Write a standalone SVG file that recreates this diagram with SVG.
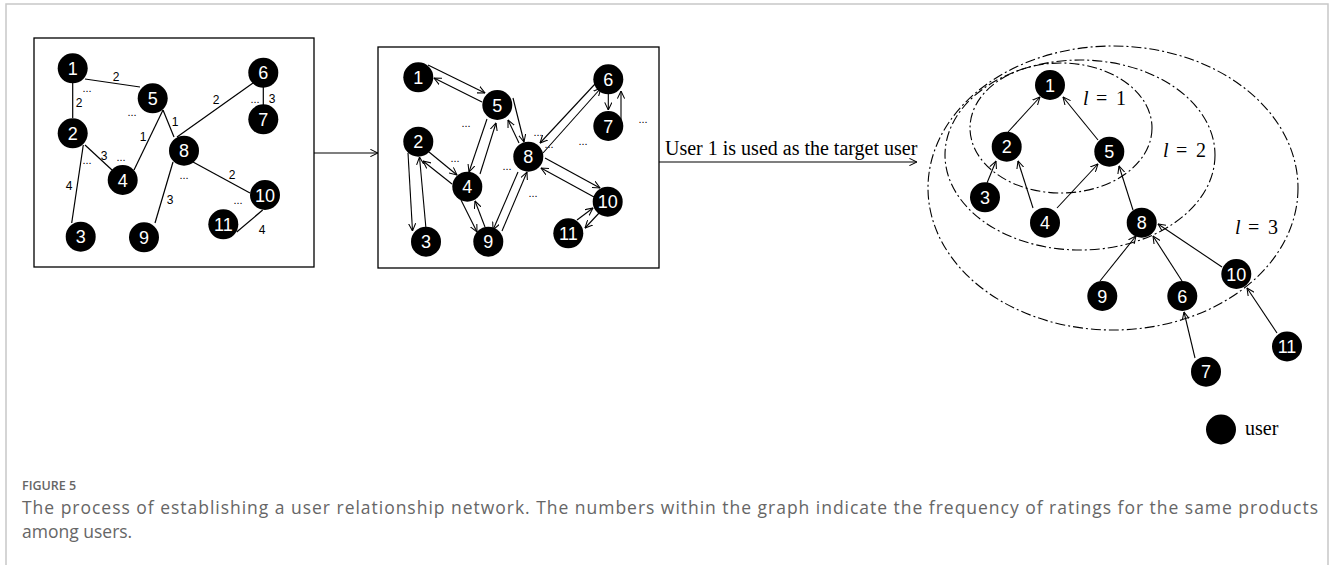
<svg xmlns="http://www.w3.org/2000/svg" width="1332" height="565" viewBox="0 0 1332 565">
<style>
.frame{fill:none;stroke:#c8c8c8;stroke-width:1.5}
.box{fill:none;stroke:#000;stroke-width:1.3}
.e{stroke:#000;stroke-width:1.2;fill:none}
.a{stroke:#000;stroke-width:1.1;fill:none;marker-end:url(#arr)}
.n{fill:#000}
.nt{fill:#fff;font-family:"Liberation Sans","Open Sans",sans-serif;font-size:18px;text-anchor:middle}
.lb{fill:#000;font-family:"Liberation Sans","Open Sans",sans-serif;font-size:12px;text-anchor:middle}
.dt{fill:#000;font-family:"Liberation Sans",sans-serif;font-size:11px;text-anchor:middle}
.ring{fill:none;stroke:#000;stroke-width:1.1;stroke-dasharray:10 3 2 3}
.ser{font-family:"Liberation Serif","Times New Roman",serif;fill:#000}
.cap{font-family:"Open Sans","Noto Sans",sans-serif;fill:#666}
</style>
<defs>
<marker id="arr" viewBox="0 0 10 10" refX="9.5" refY="5" markerWidth="8" markerHeight="8" markerUnits="userSpaceOnUse" orient="auto">
<path d="M0,0.5 L9.5,5 L0,9.5" fill="none" stroke="#000" stroke-width="1.3"/>
</marker>
</defs>
<rect width="1332" height="565" fill="#fff"/>
<path class="frame" d="M6,565 V4 H1328 V565"/>

<!-- Panel 1 -->
<rect class="box" x="34" y="38" width="280" height="229"/>
<g id="p1-connectors">
<line class="e" x1="85" y1="79" x2="140" y2="87"/>
<line class="e" x1="72.7" y1="83" x2="72.7" y2="118"/>
<line class="e" x1="163" y1="110" x2="134" y2="170"/>
<line class="e" x1="163" y1="110" x2="174" y2="137"/>
<line class="e" x1="177" y1="137" x2="253" y2="83"/>
<line class="e" x1="263.3" y1="87" x2="263.3" y2="106"/>
<line class="e" x1="85" y1="145" x2="112" y2="170"/>
<line class="e" x1="83.3" y1="145" x2="71.7" y2="223"/>
<line class="e" x1="193" y1="162" x2="250" y2="193"/>
<line class="e" x1="173" y1="162" x2="155" y2="223"/>
<line class="e" x1="262.7" y1="210" x2="236.7" y2="232"/>
<text class="lb" x="116" y="81">2</text>
<text class="lb" x="79" y="107">2</text>
<text class="lb" x="143" y="141">1</text>
<text class="lb" x="175" y="126">1</text>
<text class="lb" x="216" y="104">2</text>
<text class="lb" x="272" y="103">3</text>
<text class="lb" x="104" y="160">3</text>
<text class="lb" x="69" y="190">4</text>
<text class="lb" x="232" y="179">2</text>
<text class="lb" x="170" y="204">3</text>
<text class="lb" x="262" y="234">4</text>
<text class="dt" x="87" y="92">...</text>
<text class="dt" x="132" y="116">...</text>
<text class="dt" x="255" y="103">...</text>
<text class="dt" x="87" y="164">...</text>
<text class="dt" x="121" y="161">...</text>
<text class="dt" x="184" y="179">...</text>
<text class="dt" x="238" y="204">...</text>
</g>
<g id="p1-n1"><circle class="n" cx="72.7" cy="68.3" r="15"/><text class="nt" x="72.7" y="74.8">1</text></g>
<g id="p1-n2"><circle class="n" cx="72.7" cy="133.3" r="15"/><text class="nt" x="72.7" y="139.8">2</text></g>
<g id="p1-n3"><circle class="n" cx="80.7" cy="236.7" r="15"/><text class="nt" x="80.7" y="243.2">3</text></g>
<g id="p1-n4"><circle class="n" cx="122.7" cy="180" r="15"/><text class="nt" x="122.7" y="186.5">4</text></g>
<g id="p1-n5"><circle class="n" cx="152.7" cy="98.3" r="15"/><text class="nt" x="152.7" y="104.8">5</text></g>
<g id="p1-n6"><circle class="n" cx="263.3" cy="72.7" r="15"/><text class="nt" x="263.3" y="79.2">6</text></g>
<g id="p1-n7"><circle class="n" cx="263.3" cy="119.3" r="15"/><text class="nt" x="263.3" y="125.8">7</text></g>
<g id="p1-n8"><circle class="n" cx="184" cy="150.7" r="15"/><text class="nt" x="184" y="157.2">8</text></g>
<g id="p1-n9"><circle class="n" cx="144" cy="237.3" r="15"/><text class="nt" x="144" y="243.8">9</text></g>
<g id="p1-n10"><circle class="n" cx="265" cy="195" r="15"/><text class="nt" x="265" y="201.5">10</text></g>
<g id="p1-n11"><circle class="n" cx="223.3" cy="224.3" r="15"/><text class="nt" x="223.3" y="230.8">11</text></g>

<!-- Transition arrows -->
<g id="transitions">
<line class="a" x1="314" y1="153" x2="378" y2="153"/>
<line class="a" x1="659" y1="162" x2="917" y2="162"/>
<text class="ser" x="665" y="155" font-size="20">User 1 is used as the target user</text>
</g>

<!-- Panel 2 -->
<rect class="box" x="378" y="47" width="281" height="221"/>
<g id="p2-connectors">
<line class="a" x1="428" y1="65" x2="485" y2="93"/>
<line class="a" x1="482" y1="102" x2="434" y2="78"/>
<line class="a" x1="408" y1="153" x2="412.5" y2="231"/>
<line class="a" x1="426" y1="229" x2="419.5" y2="157"/>
<line class="a" x1="429" y1="152" x2="457" y2="175"/>
<line class="a" x1="452" y1="184" x2="423" y2="161"/>
<line class="a" x1="480" y1="174" x2="496" y2="123"/>
<line class="a" x1="487" y1="119" x2="469" y2="172"/>
<line class="a" x1="513" y1="98" x2="524" y2="142"/>
<line class="a" x1="519" y1="143" x2="508" y2="120"/>
<line class="a" x1="461" y1="200" x2="477" y2="232"/>
<line class="a" x1="485" y1="227" x2="475" y2="201"/>
<line class="a" x1="502" y1="231" x2="527" y2="172"/>
<line class="a" x1="518" y1="172" x2="493" y2="230"/>
<line class="a" x1="595" y1="84" x2="540" y2="143"/>
<line class="a" x1="543" y1="153" x2="601" y2="88"/>
<line class="a" x1="608.3" y1="94" x2="608.3" y2="110"/>
<line class="a" x1="621" y1="120" x2="621" y2="91"/>
<line class="a" x1="545" y1="158" x2="600" y2="188"/>
<line class="a" x1="594" y1="197" x2="541" y2="168"/>
<line class="a" x1="600" y1="212" x2="585" y2="228"/>
<line class="a" x1="577" y1="220" x2="593" y2="208"/>
<text class="dt" x="466" y="127">...</text>
<text class="dt" x="455" y="162">...</text>
<text class="dt" x="538" y="136">...</text>
<text class="dt" x="549" y="148">...</text>
<text class="dt" x="583" y="145">...</text>
<text class="dt" x="643" y="123">...</text>
<text class="dt" x="507" y="170">...</text>
<text class="dt" x="533" y="197">...</text>
</g>
<g id="p2-n1"><circle class="n" cx="418.3" cy="77.3" r="15"/><text class="nt" x="418.3" y="83.8">1</text></g>
<g id="p2-n2"><circle class="n" cx="418.3" cy="141.7" r="15"/><text class="nt" x="418.3" y="148.2">2</text></g>
<g id="p2-n3"><circle class="n" cx="426" cy="241.7" r="15"/><text class="nt" x="426" y="248.2">3</text></g>
<g id="p2-n4"><circle class="n" cx="467.3" cy="186.7" r="15"/><text class="nt" x="467.3" y="193.2">4</text></g>
<g id="p2-n5"><circle class="n" cx="497.3" cy="105" r="15"/><text class="nt" x="497.3" y="111.5">5</text></g>
<g id="p2-n6"><circle class="n" cx="608.3" cy="79.3" r="15"/><text class="nt" x="608.3" y="85.8">6</text></g>
<g id="p2-n7"><circle class="n" cx="608.3" cy="126" r="15"/><text class="nt" x="608.3" y="132.5">7</text></g>
<g id="p2-n8"><circle class="n" cx="528.3" cy="156.7" r="15"/><text class="nt" x="528.3" y="163.2">8</text></g>
<g id="p2-n9"><circle class="n" cx="488.3" cy="241.7" r="15"/><text class="nt" x="488.3" y="248.2">9</text></g>
<g id="p2-n10"><circle class="n" cx="607.7" cy="201.7" r="15"/><text class="nt" x="607.7" y="208.2">10</text></g>
<g id="p2-n11"><circle class="n" cx="568.3" cy="233.3" r="15"/><text class="nt" x="568.3" y="239.8">11</text></g>

<!-- Panel 3 -->
<g id="rings">
<ellipse class="ring" cx="1061" cy="128" rx="91" ry="65"/>
<ellipse class="ring" cx="1080" cy="155" rx="135" ry="95"/>
<ellipse class="ring" cx="1113" cy="188" rx="185" ry="142"/>
<text class="ser" y="105" font-size="20"><tspan x="1083" font-style="italic">l</tspan><tspan x="1096">=</tspan><tspan x="1116">1</tspan></text>
<text class="ser" y="157" font-size="20"><tspan x="1163" font-style="italic">l</tspan><tspan x="1176">=</tspan><tspan x="1196">2</tspan></text>
<text class="ser" y="234" font-size="20"><tspan x="1235" font-style="italic">l</tspan><tspan x="1248">=</tspan><tspan x="1268">3</tspan></text>
</g>
<g id="p3-connectors">
<line class="a" x1="1008" y1="132" x2="1040" y2="97"/>
<line class="a" x1="1098" y1="140" x2="1063" y2="97"/>
<line class="a" x1="987" y1="183" x2="996" y2="161"/>
<line class="a" x1="1033" y1="208" x2="1018" y2="161"/>
<line class="a" x1="1057" y1="208" x2="1098" y2="164"/>
<line class="a" x1="1133" y1="210" x2="1119" y2="166"/>
<line class="a" x1="1100" y1="281" x2="1136" y2="236"/>
<line class="a" x1="1182" y1="281" x2="1153" y2="236"/>
<line class="a" x1="1222" y1="267" x2="1158" y2="224"/>
<line class="a" x1="1195" y1="358" x2="1184" y2="312"/>
<line class="a" x1="1277" y1="333" x2="1247" y2="288"/>
</g>
<g id="p3-n1"><circle class="n" cx="1050" cy="85" r="15"/><text class="nt" x="1050" y="91.5">1</text></g>
<g id="p3-n2"><circle class="n" cx="1006.7" cy="146.7" r="15"/><text class="nt" x="1006.7" y="153.2">2</text></g>
<g id="p3-n3"><circle class="n" cx="985" cy="197.3" r="15"/><text class="nt" x="985" y="203.8">3</text></g>
<g id="p3-n4"><circle class="n" cx="1045" cy="222.7" r="15"/><text class="nt" x="1045" y="229.2">4</text></g>
<g id="p3-n5"><circle class="n" cx="1109.3" cy="151.7" r="15"/><text class="nt" x="1109.3" y="158.2">5</text></g>
<g id="p3-n6"><circle class="n" cx="1182.3" cy="296" r="15"/><text class="nt" x="1182.3" y="302.5">6</text></g>
<g id="p3-n7"><circle class="n" cx="1206" cy="371.7" r="15"/><text class="nt" x="1206" y="378.2">7</text></g>
<g id="p3-n8"><circle class="n" cx="1141.7" cy="222.7" r="15"/><text class="nt" x="1141.7" y="229.2">8</text></g>
<g id="p3-n9"><circle class="n" cx="1102.3" cy="296" r="15"/><text class="nt" x="1102.3" y="302.5">9</text></g>
<g id="p3-n10"><circle class="n" cx="1236.3" cy="274" r="15"/><text class="nt" x="1236.3" y="280.5">10</text></g>
<g id="p3-n11"><circle class="n" cx="1287" cy="346.5" r="15"/><text class="nt" x="1287" y="353">11</text></g>

<g id="legend">
<circle class="n" cx="1221" cy="429.5" r="15"/>
<text class="ser" x="1245" y="435" font-size="20">user</text>
</g>

<g id="caption">
<text class="cap" x="22" y="490" font-size="12.5" font-weight="600" fill="#555">FIGURE 5</text>
<text class="cap" x="22" y="514" font-size="17.5" textLength="1296" lengthAdjust="spacing">The process of establishing a user relationship network. The numbers within the graph indicate the frequency of ratings for the same products</text>
<text class="cap" x="22" y="538" font-size="17.5">among users.</text>
</g>
</svg>
